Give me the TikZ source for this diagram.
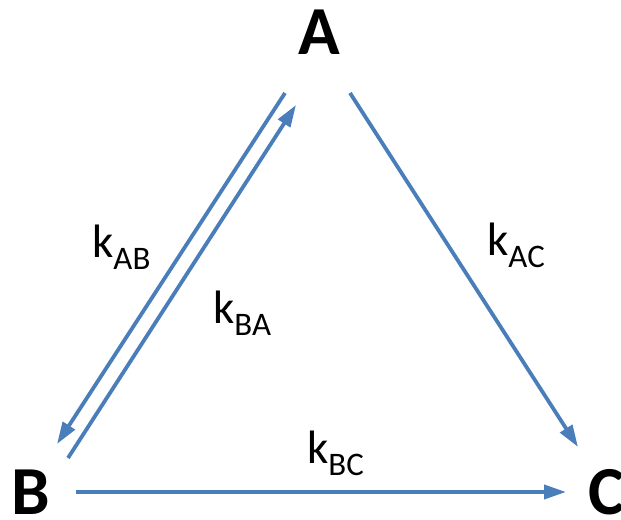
\documentclass[tikz,border=0pt]{standalone}
\usepackage{fontspec}
\setmainfont{Carlito}
\usetikzlibrary{arrows.meta}
\definecolor{lineblue}{RGB}{74,126,187}
\newcommand{\ratek}[1]{k\raisebox{-12bp}{\fontsize{33}{40}\selectfont #1}}
\begin{document}
\begin{tikzpicture}[x=1bp,y=-1bp,
  conn/.style={draw=lineblue, line width=3.8bp, -{Triangle[length=22bp,width=14bp]}},
  vertex/.style={font=\fontsize{69}{80}\selectfont\bfseries, inner sep=0pt, anchor=base},
  rate/.style={font=\fontsize{47}{56}\selectfont, inner sep=0pt, anchor=base west}]
\useasboundingbox (0,0) rectangle (621,520);
\node[vertex] (A) at (319,55) {A};
\node[vertex] (B) at (31,514) {B};
\node[vertex] (C) at (607,514) {C};
\coordinate (abs) at (285,93);
\coordinate (abe) at (57,444);
\coordinate (bas) at (68,458);
\coordinate (bae) at (296,105);
\coordinate (acs) at (350,93);
\coordinate (ace) at (578,447);
\coordinate (bcs) at (76,492);
\coordinate (bce) at (566,492);
\draw[conn] (abs) -- (abe);
\draw[conn] (bas) -- (bae);
\draw[conn] (acs) -- (ace);
\draw[conn] (bcs) -- (bce);
\node[rate] (kab) at (92,257) {\ratek{AB}};
\node[rate] (kba) at (213,323) {\ratek{BA}};
\node[rate] (kac) at (487,255) {\ratek{AC}};
\node[rate] (kbc) at (307,463) {\ratek{BC}};
\end{tikzpicture}
\end{document}
